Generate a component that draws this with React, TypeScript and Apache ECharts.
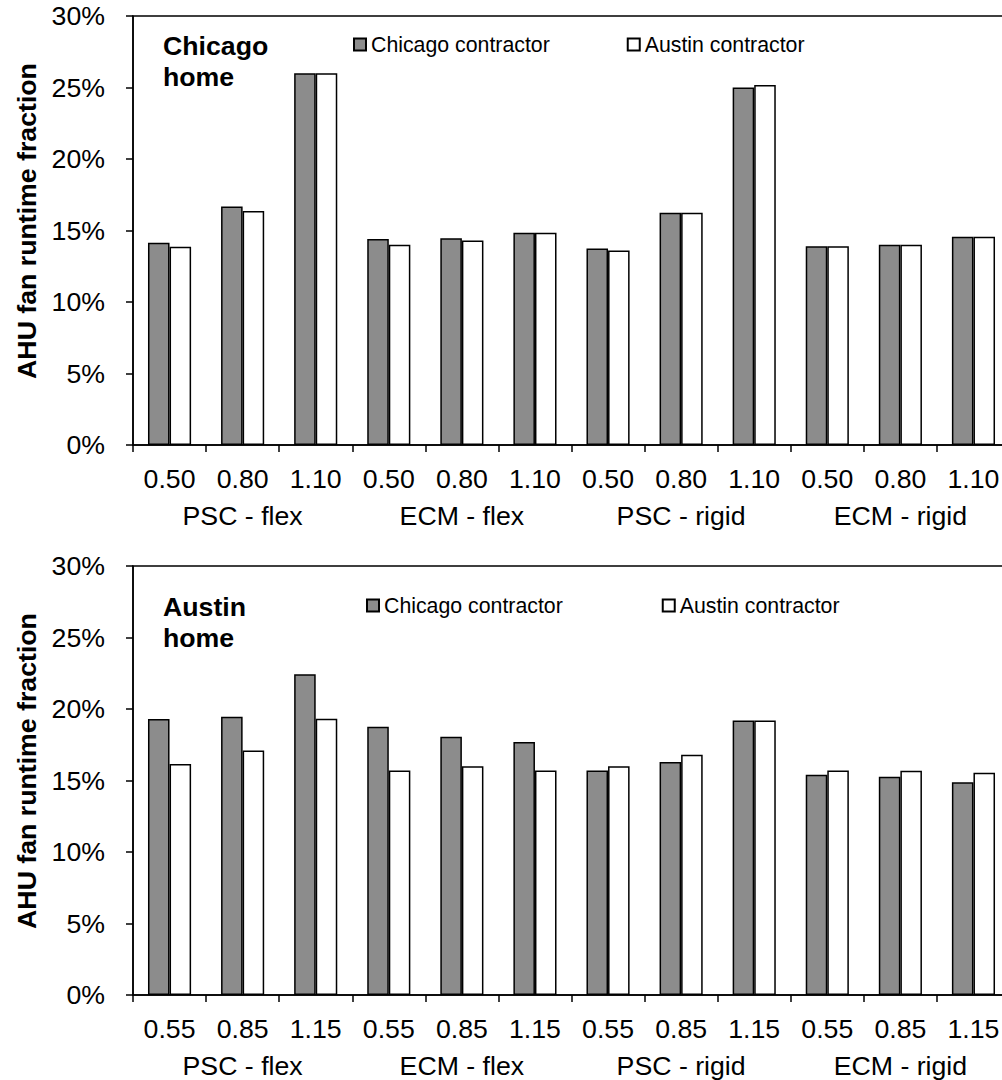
import React, { useEffect, useRef } from "react";
import * as echarts from "echarts";

const topCategories = ["0.50", "0.80", "1.10", "0.50", "0.80", "1.10", "0.50", "0.80", "1.10", "0.50", "0.80", "1.10"];
const bottomCategories = ["0.55", "0.85", "1.15", "0.55", "0.85", "1.15", "0.55", "0.85", "1.15", "0.55", "0.85", "1.15"];
const groups = ["PSC - flex", "ECM - flex", "PSC - rigid", "ECM - rigid"];
const seriesNames = ["Chicago contractor", "Austin contractor"];

// Chicago home
const chicagoHomeChicagoContractor = [14.15, 16.67, 26.0, 14.4, 14.45, 14.85, 13.75, 16.25, 25.0, 13.9, 14.0, 14.57];
const chicagoHomeAustinContractor = [13.87, 16.36, 26.0, 14.0, 14.3, 14.85, 13.6, 16.25, 25.17, 13.9, 14.0, 14.57];
// Austin home
const austinHomeChicagoContractor = [19.3, 19.46, 22.43, 18.76, 18.06, 17.7, 15.7, 16.3, 19.2, 15.4, 15.27, 14.87];
const austinHomeAustinContractor = [16.15, 17.1, 19.32, 15.7, 16.0, 15.7, 16.0, 16.8, 19.2, 15.7, 15.69, 15.55];

const FONT = "'Liberation Sans', Arial, sans-serif";
const FS = 26.7;

export default function App() {
  const ref = useRef<HTMLDivElement>(null);
  useEffect(() => {
    if (!ref.current) return;
    const chart = echarts.init(ref.current, undefined, { renderer: "svg" });
    const axisLine = { show: true, lineStyle: { color: "#000", width: 1.5 } };
    const mkX = (gridIndex: number, data: string[]) => ({
      type: "category",
      gridIndex,
      data,
      position: "bottom",
      axisLine,
      axisTick: { show: true, length: 7, inside: false, lineStyle: { color: "#000", width: 1.5 } },
      axisLabel: { interval: 0, margin: 20, fontSize: FS, color: "#000", fontFamily: FONT },
      splitLine: { show: false },
    });
    const mkGroupX = (gridIndex: number) => ({
      type: "category",
      gridIndex,
      data: groups,
      position: "bottom",
      axisLine: { show: false },
      axisTick: { show: false },
      axisLabel: { interval: 0, margin: 57, fontSize: FS, color: "#000", fontFamily: FONT },
      splitLine: { show: false },
    });
    const mkY = (gridIndex: number) => ({
      type: "value",
      gridIndex,
      min: 0,
      max: 30,
      interval: 5,
      axisLine,
      axisTick: { show: true, length: 7, lineStyle: { color: "#000", width: 1.5 } },
      axisLabel: { formatter: "{value}%", margin: 28, fontSize: FS, color: "#000", fontFamily: FONT },
      splitLine: { show: false },
    });
    const gray = { color: "#8c8c8c", borderColor: "#000", borderWidth: 1.5 };
    const white = { color: "#ffffff", borderColor: "#000", borderWidth: 1.5 };
    const bar = (name: string, data: number[], xi: number, yi: number, style: any) => ({
      type: "bar",
      name,
      data,
      xAxisIndex: xi,
      yAxisIndex: yi,
      itemStyle: style,
      barGap: "0%",
      barCategoryGap: "41%",
    });
    const legendBase = {
      data: seriesNames,
      orient: "horizontal",
      icon: "rect",
      itemWidth: 12,
      itemHeight: 12,
      padding: 0,
      selectedMode: false,
      textStyle: { fontSize: 21.3, color: "#000", fontFamily: FONT, lineHeight: 24, padding: [0, 0, 0, 0] },
    };
    const boldText = (text: string, x: number, y: number) => ({
      type: "text",
      x,
      y,
      style: { text, font: `bold ${FS}px ${FONT}`, fill: "#000", lineHeight: 31, align: "left", verticalAlign: "top" },
    });
    const yTitle = (y: number) => ({
      type: "text",
      x: 27,
      y,
      rotation: Math.PI / 2,
      style: {
        text: "AHU fan runtime fraction",
        font: `bold ${FS}px ${FONT}`,
        fill: "#000",
        align: "center",
        verticalAlign: "middle",
      },
    });
    chart.setOption({
      animation: false,
      backgroundColor: "#fff",
      grid: [
        { left: 133, top: 16, width: 877, height: 429, show: true, borderColor: "#000", borderWidth: 1.5, backgroundColor: "transparent" },
        { left: 133, top: 566, width: 877, height: 429, show: true, borderColor: "#000", borderWidth: 1.5, backgroundColor: "transparent" },
      ],
      xAxis: [mkX(0, topCategories), mkGroupX(0), mkX(1, bottomCategories), mkGroupX(1)],
      yAxis: [mkY(0), mkY(1)],
      legend: [
        { ...legendBase, left: 353, top: 32.5, itemGap: 77 },
        { ...legendBase, left: 366, top: 593.5, itemGap: 99 },
      ],
      graphic: [
        boldText("Chicago\nhome", 163, 30),
        boldText("Austin\nhome", 163, 591),
        yTitle(221),
        yTitle(771),
      ],
      series: [
        bar(seriesNames[0], chicagoHomeChicagoContractor, 0, 0, gray),
        bar(seriesNames[1], chicagoHomeAustinContractor, 0, 0, white),
        bar(seriesNames[0], austinHomeChicagoContractor, 2, 1, gray),
        bar(seriesNames[1], austinHomeAustinContractor, 2, 1, white),
      ],
    });
    return () => chart.dispose();
  }, []);
  return (
    <div style={{ position: "absolute", left: 0, top: 0, width: 1002, height: 1080, overflow: "hidden", background: "#fff" }}>
      <div ref={ref} style={{ width: 1020, height: 1080 }} />
    </div>
  );
}
